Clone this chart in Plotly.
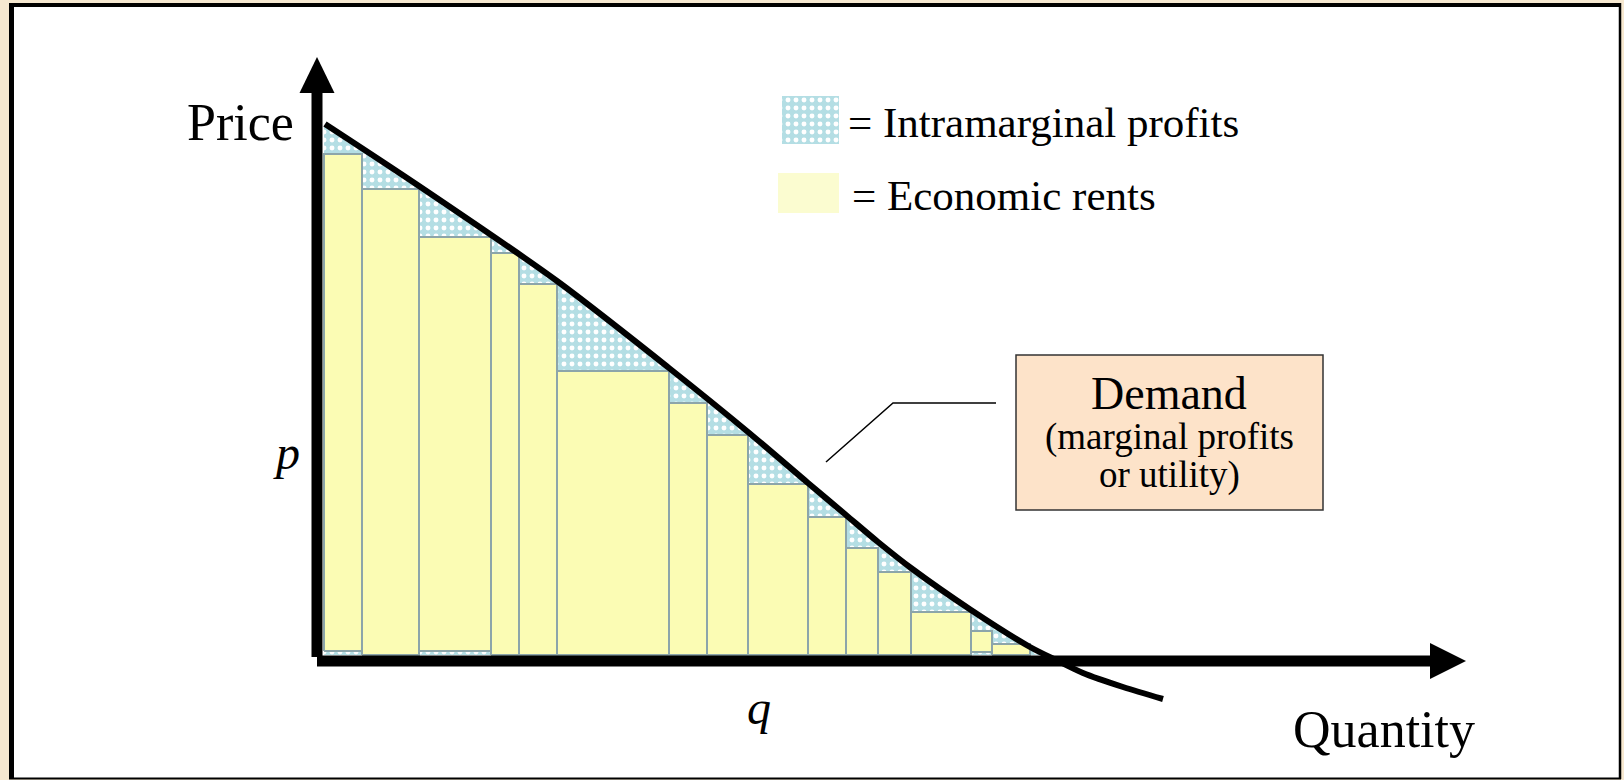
import numpy as np
import plotly.graph_objects as go

# ---------------- data ----------------
# step-bars: quantity edges and heights (price) of each consumer block
bar_edges = [0, 3.8, 9.5, 16.7, 19.5, 23.3, 34.5, 38.3, 42.4, 48.4, 52.2, 55.4, 58.7, 64.7, 66.8, 70.6]
bar_heights = [50.1, 46.6, 41.8, 40.2, 37.1, 28.4, 25.2, 22.0, 17.1, 13.8, 10.7, 8.3, 4.3, 2.4, 1.1]
bar_bases = [0.4, 0, 0.4, 0, 0, 0, 0, 0, 0, 0, 0, 0, 0, 0.3, 0]

# demand curve
demand_q = [0.1, 9.5, 23.3, 34.5, 42.4, 48.4, 52.2, 55.4, 58.7, 64.7, 70.6, 73.3, 75.9, 79.9, 83.9]
demand_p = [53.1, 46.9, 37.4, 28.7, 22.3, 17.2, 14.0, 11.3, 8.7, 4.5, 0.8, -0.55, -1.8, -3.2, -4.4]

# texts
axis_y_label = "Price"
axis_x_label = "Quantity"
p_label = "p"
q_label = "q"
legend_labels = ["= Intramarginal profits", "= Economic rents"]
demand_lines = ["Demand", "(marginal profits", "or utility)"]

# ---------------- styles ----------------
FONT = "Liberation Serif"
BEIGE = "#f6e8d0"
YELLOW = "#fbfcb4"
YELLOW_SW = "#fbfcd0"
BLUE = "#b4dee4"
EDGE = "#8ca5aa"
PEACH = "#fde3c9"

W, H = 1624, 780
XR = [-32.4, 130.0]
YR = [-12.5, 65.5]

def X(px):
    return XR[0] + px / W * (XR[1] - XR[0])

def Y(py):
    return YR[1] - py / H * (YR[1] - YR[0])

fig = go.Figure()

# ---- intramarginal profits: area under demand curve (above axis) ----
q = np.array(demand_q)
p = np.array(demand_p)
pos = p >= 0
i = np.where(p < 0)[0][0]
q_cross = q[i - 1] + (0 - p[i - 1]) * (q[i] - q[i - 1]) / (p[i] - p[i - 1])
p0 = p[0] + (p[0] - p[1]) / (q[1] - q[0]) * q[0]
fx = [0.0] + list(q[pos]) + [q_cross, 0.0, 0.0]
fy = [p0] + list(p[pos]) + [0.0, 0.0, p0]
pattern = dict(shape=".", bgcolor=BLUE, fgcolor="white", size=8, solidity=0.3, fillmode="replace")
fig.add_trace(go.Scatter(x=fx, y=fy, mode="lines", fill="toself", fillcolor=BLUE,
                         fillpattern=pattern, line=dict(width=0, color=BLUE),
                         hoverinfo="skip", showlegend=False))

# ---- economic rents: the bars ----
bx, by = [], []
for k in range(len(bar_heights)):
    l, r = bar_edges[k], bar_edges[k + 1]
    b, t = bar_bases[k], bar_heights[k]
    bx += [l, l, r, r, l, None]
    by += [b, t, t, b, b, None]
fig.add_trace(go.Scatter(x=bx, y=by, mode="lines", fill="toself", fillcolor=YELLOW,
                         line=dict(color=EDGE, width=2), hoverinfo="skip", showlegend=False))

# ---- demand curve ----
fig.add_trace(go.Scatter(x=demand_q, y=demand_p, mode="lines",
                         line=dict(color="black", width=6, shape="spline", smoothing=0.8),
                         hoverinfo="skip", showlegend=False))

# ---- legend swatch (patterned) ----
sx0, sx1, sy0, sy1 = X(782), X(839), Y(144), Y(96)
fig.add_trace(go.Scatter(x=[sx0, sx0, sx1, sx1, sx0], y=[sy0, sy1, sy1, sy0, sy0], mode="lines",
                         fill="toself", fillcolor=BLUE, fillpattern=pattern,
                         line=dict(width=0, color=BLUE), hoverinfo="skip", showlegend=False))

shapes = []
# frame
shapes.append(dict(type="rect", xref="paper", yref="paper", x0=11 / W, x1=1621 / W,
                   y0=1 - 779 / H, y1=1 - 4 / H, fillcolor="white", line=dict(width=0), layer="below"))
for (x0, y0, x1, y1, w) in [(11.5, 3, 11.5, 779, 5), (9, 5, 1621, 5, 4),
                            (1620, 3, 1620, 779, 2.5), (9, 778.5, 1621, 778.5, 2)]:
    shapes.append(dict(type="line", xref="paper", yref="paper", x0=x0 / W, x1=x1 / W,
                       y0=1 - y0 / H, y1=1 - y1 / H, line=dict(color="black", width=w)))

# axes arrows
shapes.append(dict(type="line", x0=X(317), x1=X(317), y0=Y(657), y1=Y(92),
                   line=dict(color="black", width=11)))
shapes.append(dict(type="path", path=f"M {X(299.5)},{Y(93)} L {X(317)},{Y(57)} L {X(334.5)},{Y(93)} Z",
                   fillcolor="black", line=dict(width=0)))
shapes.append(dict(type="line", x0=X(317), x1=X(1431), y0=Y(661), y1=Y(661),
                   line=dict(color="black", width=11)))
shapes.append(dict(type="path", path=f"M {X(1430)},{Y(643)} L {X(1466)},{Y(661)} L {X(1430)},{Y(679)} Z",
                   fillcolor="black", line=dict(width=0)))

# legend yellow swatch
shapes.append(dict(type="rect", x0=X(778), x1=X(839), y0=Y(213), y1=Y(173),
                   fillcolor=YELLOW_SW, line=dict(width=0)))

# demand box + leader line
shapes.append(dict(type="rect", x0=X(1016), x1=X(1323), y0=Y(510), y1=Y(355),
                   fillcolor=PEACH, line=dict(color="#333333", width=1.5)))
shapes.append(dict(type="path", path=f"M {X(826)},{Y(462)} L {X(893)},{Y(403)} L {X(996)},{Y(403)}",
                   line=dict(color="black", width=1.5)))

ann = []
def txt(t, x, y, size, xanchor="center", italic=False):
    ann.append(dict(text=t, x=x, y=y, xanchor=xanchor, yanchor="middle", showarrow=False,
                    font=dict(family=FONT, size=size, color="black",
                              style="italic" if italic else "normal")))

txt(axis_y_label, X(240), Y(122.5), 52)
txt(axis_x_label, X(1384), Y(729.5), 52)
txt(p_label, X(286), Y(452), 48, italic=True)
txt(q_label, X(759), Y(707), 48, italic=True)
txt(legend_labels[0], X(846), Y(122.5), 43, xanchor="left")
txt(legend_labels[1], X(850), Y(195.5), 43, xanchor="left")
txt(demand_lines[0], X(1169), Y(393.5), 46)
txt(demand_lines[1], X(1169), Y(436.5), 37)
txt(demand_lines[2], X(1169), Y(474.5), 37)

fig.update_layout(
    width=W, height=H, margin=dict(l=0, r=0, t=0, b=0),
    paper_bgcolor=BEIGE, plot_bgcolor=BEIGE,
    xaxis=dict(range=XR, visible=False, fixedrange=True),
    yaxis=dict(range=YR, visible=False, fixedrange=True),
    shapes=shapes, annotations=ann, hovermode=False, showlegend=False,
)

fig.write_html(
    "out.html",
    config={"displayModeBar": False},
    post_script="document.body.style.margin='0px';document.body.style.overflow='hidden';"
                "document.body.style.background='" + BEIGE + "';",
)
